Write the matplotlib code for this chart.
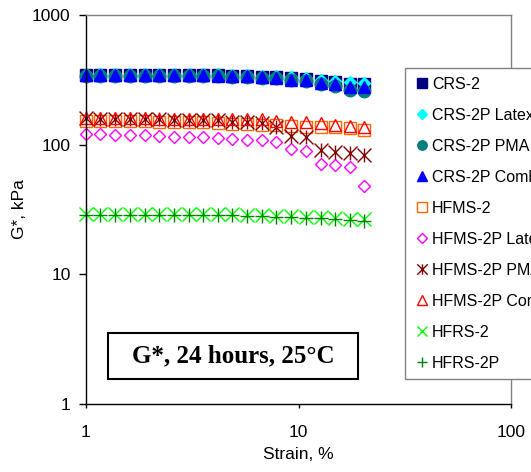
import matplotlib
matplotlib.use("Agg")
import matplotlib.pyplot as plt
from matplotlib.path import Path
from matplotlib.patches import Rectangle
from matplotlib.ticker import FixedLocator, FixedFormatter, NullLocator

plt.rcParams['font.family'] = ['Liberation Sans', 'DejaVu Sans']

# strain, % (same for every series)
strain = [1.0, 1.17, 1.37, 1.61, 1.89, 2.21, 2.59, 3.04, 3.56, 4.17,
          4.89, 5.73, 6.72, 7.87, 9.22, 10.8, 12.7, 14.9, 17.4, 20.4]

# G*, kPa
crs2 = [345, 345, 345, 345, 345, 345, 345, 345, 345, 345,
        340, 340, 335, 333, 325, 320, 308, 302, 295, 293]
crs2p_latex = [352, 350, 350, 350, 350, 350, 350, 350, 350, 350,
               345, 345, 340, 338, 330, 326, 315, 310, 302, 300]
crs2p_pma = [338, 338, 338, 338, 338, 338, 338, 338, 338, 338,
             333, 333, 328, 325, 315, 310, 295, 285, 262, 260]
crs2p_combo = [342, 342, 342, 342, 342, 342, 342, 342, 342, 340,
               336, 336, 330, 328, 318, 314, 300, 295, 280, 278]
hfms2 = [152, 152, 152, 151, 151, 150, 150, 149, 149, 148,
         145, 144, 142, 142, 139, 138, 138, 137, 134, 130]
hfms2p_latex = [121, 121, 119, 119, 119, 116, 115, 115, 115, 113,
                111, 109, 109, 105, 93, 89, 71, 70, 67, 48]
hfms2p_pma = [160, 158, 158, 157, 157, 157, 156, 156, 155, 154,
              150, 150, 146, 138, 117, 114, 91, 88, 87, 83]
hfms2p_combo = [160, 160, 160, 160, 160, 159, 159, 159, 159, 158,
                158, 158, 158, 153, 150, 149, 146, 143, 140, 137]
hfrs2 = [29, 29, 29, 29, 29, 29, 29, 29, 29, 29,
         29, 28.5, 28.5, 28, 28, 27.5, 27.5, 27, 26.5, 26.5]
hfrs2p = [28.7, 28.7, 28.7, 28.7, 28.7, 28.7, 28.7, 28.7, 28.7, 28.7,
          28.7, 28.3, 28.3, 27.8, 27.8, 27.3, 27.3, 26.9, 26.2, 26.0]

# asterisk = X plus a vertical bar, like the spreadsheet marker
asterisk = Path([(0, -1), (0, 1), (-1, -1), (1, 1), (-1, 1), (1, -1)],
                [Path.MOVETO, Path.LINETO, Path.MOVETO, Path.LINETO,
                 Path.MOVETO, Path.LINETO])

series = [
    ("CRS-2", crs2, dict(marker='s', ms=9, color='#000080')),
    ("CRS-2P Latex", crs2p_latex, dict(marker='D', ms=6.5, color='#00FFFF')),
    ("CRS-2P PMA", crs2p_pma, dict(marker='o', ms=9, color='#008080')),
    ("CRS-2P Combo", crs2p_combo, dict(marker='^', ms=9, color='#0000FF')),
    ("HFMS-2", hfms2, dict(marker='s', ms=9, mfc='none', mec='#FF6600', mew=1)),
    ("HFMS-2P Latex", hfms2p_latex, dict(marker='D', ms=6.5, mfc='none', mec='#FF00FF', mew=1)),
    ("HFMS-2P PMA", hfms2p_pma, dict(marker=asterisk, ms=10, color='#800000', mew=1)),
    ("HFMS-2P Combo", hfms2p_combo, dict(marker='^', ms=9, mfc='none', mec='#FF0000', mew=1)),
    ("HFRS-2", hfrs2, dict(marker='x', ms=10, color='#00FF00', mew=1)),
    ("HFRS-2P", hfrs2p, dict(marker='+', ms=10, color='#008000', mew=1)),
]

W, H = 531, 472
fig = plt.figure(figsize=(W / 100, H / 100), dpi=100)
ax = fig.add_axes([86 / W, 1 - 404 / H, (511 - 86) / W, (404 - 15) / H])

for name, vals, style in series:
    ax.plot(strain, vals, linestyle='none', label=name, clip_on=False, **style)

ax.set_xscale('log')
ax.set_yscale('log')
ax.set_xlim(1, 100)
ax.set_ylim(1, 1000)

ax.xaxis.set_major_locator(FixedLocator([1, 10, 100]))
ax.xaxis.set_major_formatter(FixedFormatter(['1', '10', '100']))
ax.yaxis.set_major_locator(FixedLocator([1, 10, 100, 1000]))
ax.yaxis.set_major_formatter(FixedFormatter(['1', '10', '100', '1000']))
ax.xaxis.set_minor_locator(NullLocator())
ax.yaxis.set_minor_locator(NullLocator())

ax.tick_params(axis='y', direction='out', length=5, width=1, pad=6, labelsize=12.5)
ax.tick_params(axis='x', direction='out', length=3, width=1, pad=12, labelsize=12.5)
for side, s in ax.spines.items():
    s.set_linewidth(1)
    s.set_color('black' if side in ('left', 'bottom') else '#808080')

ax.set_xlabel('Strain, %', fontsize=12.5, labelpad=5)
ax.set_ylabel('G*, kPa', fontsize=12.5, labelpad=4)

leg = ax.legend(loc='upper left', bbox_to_anchor=(405 / W, 1 - 68 / H),
                bbox_transform=fig.transFigure, borderaxespad=0,
                fontsize=11.5, labelspacing=1.0, borderpad=0.55,
                handlelength=1.0, handletextpad=0.15, numpoints=1,
                markerscale=0.75, fancybox=False, framealpha=1,
                edgecolor='#808080')
leg.get_frame().set_linewidth(1)

# title box
fig.add_artist(Rectangle((108 / W, 1 - 379 / H), 250 / W, 46 / H,
                         transform=fig.transFigure, fill=True, facecolor='white',
                         edgecolor='black', linewidth=1.5))
fig.text(233 / W, 1 - 356 / H, 'G*, 24 hours, 25°C', ha='center', va='center',
         fontsize=18, fontweight='bold', family=['Liberation Serif', 'DejaVu Serif'])

fig.savefig('out.png', dpi=100)
